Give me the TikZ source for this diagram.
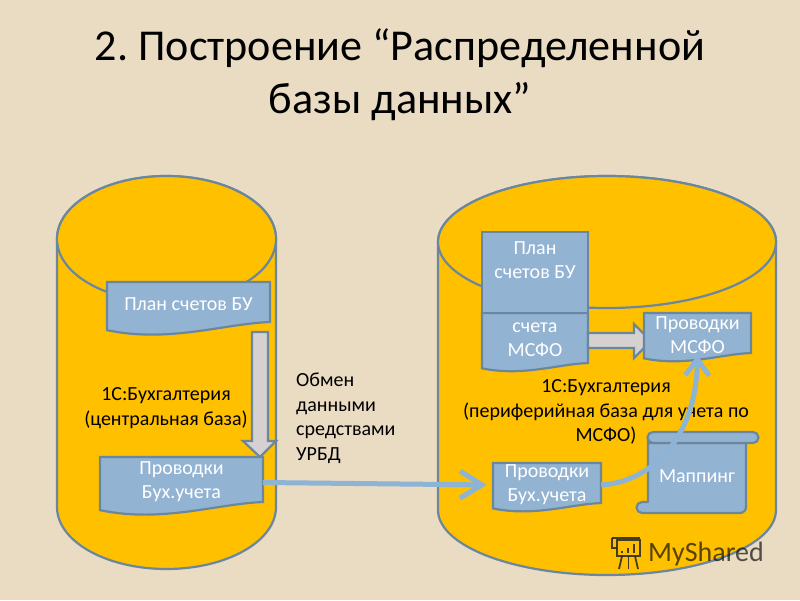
\documentclass[tikz,border=0pt]{standalone}
\usepackage{fontspec}
\setmainfont{Carlito}
\usetikzlibrary{arrows.meta}

\definecolor{paper}{HTML}{E9DCC3}
\definecolor{gold}{HTML}{FFC000}
\definecolor{edge}{HTML}{6A879F}
\definecolor{boxblue}{HTML}{93B3D3}
\definecolor{flowblue}{HTML}{8DB3D5}
\definecolor{arrowgray}{HTML}{D5D1D1}

\tikzset{
  drum/.style={fill=gold,draw=edge,line width=2.2pt},
  boxshape/.style={fill=boxblue,draw=edge,line width=2.2pt},
  boxtext/.style={text=white,align=center,inner sep=0pt,yshift=-2pt,font=\fontsize{20}{24}\selectfont},
  caption/.style={text=black,align=center,inner sep=0pt,yshift=-2pt,font=\fontsize{20}{24.4}\selectfont},
  bigarrow/.style={fill=arrowgray,draw=edge,line width=2.2pt},
  flow/.style={draw=flowblue,line width=5pt},
  flowlong/.style={flow,-{Straight Barb[length=22pt,width=27pt,line width=5pt]}},
  flowshort/.style={flow,-{Straight Barb[length=16pt,width=24pt,line width=5pt]}}
}

% name, x1, y1, x2, y2 (box without the wave), text
\newcommand{\docbox}[6]{
  \path[boxshape] (#2,#3) -- (#4,#3) -- (#4,#5)
    .. controls ({#2+0.72*(#4-#2)},{#5+0.01*(#4-#2)}) and ({#2+0.38*(#4-#2)},{#5+0.13*(#4-#2)}) .. (#2,{#5+0.05*(#4-#2)}) -- cycle;
  \node[boxtext,minimum width={(#4-#2)*1pt},minimum height={(#5-#3)*1pt}] (#1) at ({(#2+#4)/2},{(#3+#5)/2}) {#6};
}

\begin{document}
\frenchspacing
\begin{tikzpicture}[x=1pt,y=-1pt]
  \fill[paper] (0,0) rectangle (800,600);
  \useasboundingbox (0,0) rectangle (800,600);

  \node[inner sep=0pt,align=center,font=\fontsize{44.1}{53}\selectfont] (heading) at (400,75)
    {2. Построение “Распределенной\\базы данных”};

  % left drum
  \path[drum] (57,239) -- (57,507) arc[x radius=109.5,y radius=62,start angle=180,end angle=0] -- (276,239)
    arc[x radius=109.5,y radius=63,start angle=0,end angle=-180] -- cycle;
  \draw[drum] (166.5,239) ellipse[x radius=109.5,y radius=63];

  % right drum
  \path[drum] (438,242) -- (438,510) arc[x radius=169,y radius=65,start angle=180,end angle=0] -- (776,242)
    arc[x radius=169,y radius=66,start angle=0,end angle=-180] -- cycle;
  \draw[drum] (607,242) ellipse[x radius=169,y radius=66];

  % left drum contents
  \docbox{planleft}{107}{282}{270}{322}{План счетов БУ}
  \node[caption] (centraltext) at (166,406) {1С:Бухгалтерия\\(центральная база)};
  \path[bigarrow] (252,332) -- (268,332) -- (268,441) -- (276,441) -- (260,457) -- (243,441) -- (252,441) -- cycle;
  \docbox{entriesleft}{100}{457}{263}{502}{Проводки\\Бух.учета}

  \node[caption,align=left,anchor=north west] (exchangetext) at (296,371) {Обмен\\данными\\средствами\\УРБД};

  % right drum contents
  \docbox{accounts}{482}{313}{588}{363}{счета\\МСФО}
  \node[boxshape,draw,boxtext,yshift=2pt,minimum width=106pt,minimum height=81pt] (planright) at (535,272.5) {План\\счетов БУ\\~};
  \path[bigarrow] (588,333) -- (634,333) -- (634,324) -- (651,341) -- (634,358) -- (634,348) -- (588,348) -- cycle;
  \docbox{entriesifrs}{644}{313}{751}{353}{Проводки\\МСФО}
  \node[caption] (peripheraltext) at (606,410) {1С:Бухгалтерия\\(периферийная база для учета по\\МСФО)};
  \docbox{entriesright}{493}{463}{601}{503}{Проводки\\Бух.учета}

  % scroll
  \path[boxshape,line join=round] (648,437) -- (648,502) -- (642,502) arc[radius=5.5,start angle=-90,end angle=-270]
    -- (642,513) -- (740,513) arc[radius=6,start angle=90,end angle=0] -- (746,443) -- (648,443);
  \path[boxshape] (653,432) -- (753,432) arc[radius=5.5,start angle=-90,end angle=90] -- (653,443)
    arc[radius=5.5,start angle=90,end angle=270] -- cycle;
  \node[boxtext] (mapping) at (697,474) {Маппинг};

  % connectors
  \draw[flowlong,shorten >=6pt] ([yshift=-1pt]entriesleft.east) -- (entriesright.west);
  \draw[flowshort] (entriesright.east) .. controls (650,482) and (696,440) .. (entriesifrs.south);

  % watermark
  \begin{scope}[draw=black!85,line width=1.8pt,opacity=.85]
    \draw (617,540) rectangle (640,556);
    \draw (612,538) -- (640,538);
    \draw (612,538) -- (612,548) -- (617,548);
    \draw (622,556) -- (619,569);
    \draw (635,556) -- (638,569);
    \draw (628.5,556) -- (628.5,569);
    \draw (622,553) -- (622,551) (628,553) -- (628,548) (634,553) -- (634,544);
  \end{scope}
  \node[inner sep=0pt,anchor=west,text=black,opacity=.65,font=\fontsize{28}{30}\selectfont] (watermark) at (648,554) {MyShared};
\end{tikzpicture}
\end{document}
